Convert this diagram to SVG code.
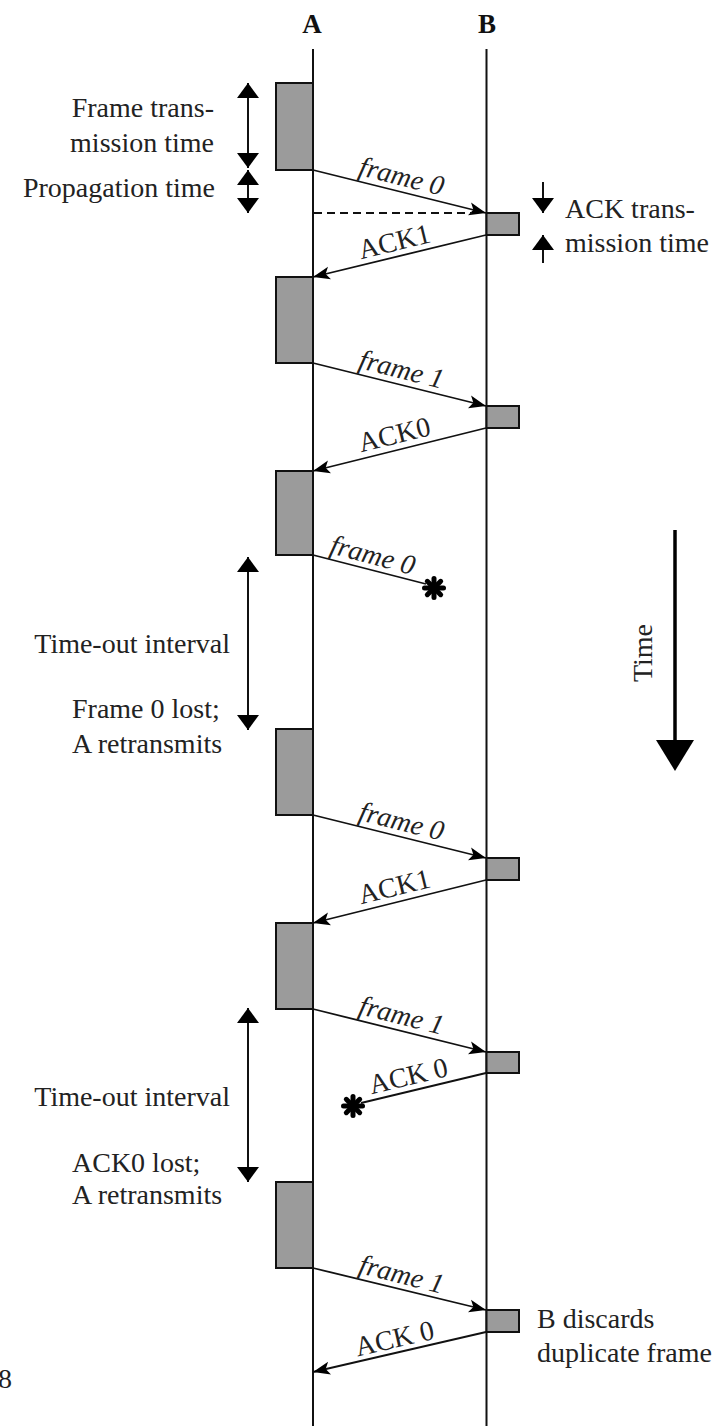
<svg xmlns="http://www.w3.org/2000/svg" width="726" height="1426" viewBox="0 0 726 1426">
<style>
text{font-family:"Liberation Serif","Times New Roman",serif;fill:#222;font-size:28px}
.hd{font-weight:bold;fill:#111;font-size:27px;text-anchor:middle}
.it{font-style:italic;text-anchor:middle}
.ack{text-anchor:middle}
.end{text-anchor:end}
.life{stroke:#111;stroke-width:2;fill:none}
.box{fill:#9b9b9b;stroke:#111;stroke-width:2}
.msg{stroke:#111;stroke-width:1.8;fill:none;marker-end:url(#ah)}
.lost{stroke:#111;stroke-width:1.8;fill:none}
.dim{stroke:#111;stroke-width:2;fill:none;marker-start:url(#vh);marker-end:url(#vh)}
.one{stroke:#111;stroke-width:2;fill:none;marker-end:url(#vh)}
.star{stroke:#000;stroke-width:5;stroke-linecap:round;fill:none}
</style>
<defs>
<marker id="ah" markerWidth="18" markerHeight="14" refX="17" refY="7" orient="auto" markerUnits="userSpaceOnUse"><path d="M0,0.5 L17,7 L0,13.5 L4,7 z" fill="#000"/></marker>
<marker id="vh" markerWidth="16" markerHeight="22" refX="15" refY="11" orient="auto-start-reverse" markerUnits="userSpaceOnUse"><path d="M0,0 L15,11 L0,22 z" fill="#000"/></marker>
</defs>

<g id="lifeline-A"><text class="hd" x="312" y="33">A</text><line class="life" x1="313" y1="49" x2="313" y2="1426"/></g>
<g id="lifeline-B"><text class="hd" x="487" y="33">B</text><line class="life" x1="486.5" y1="49" x2="486.5" y2="1426"/></g>

<g id="a-frames">
<rect class="box" x="276" y="83" width="37" height="87"/>
<rect class="box" x="276" y="277" width="37" height="86"/>
<rect class="box" x="276" y="471" width="37" height="84"/>
<rect class="box" x="276" y="729" width="37" height="86"/>
<rect class="box" x="276" y="923" width="37" height="86"/>
<rect class="box" x="276" y="1182" width="37" height="86"/>
</g>
<g id="b-acks">
<rect class="box" x="486.5" y="213" width="32.5" height="22"/>
<rect class="box" x="486.5" y="406" width="32.5" height="22"/>
<rect class="box" x="486.5" y="858" width="32.5" height="22"/>
<rect class="box" x="486.5" y="1052" width="32.5" height="21"/>
<rect class="box" x="486.5" y="1310" width="32.5" height="22"/>
</g>

<g id="connectors">
<line class="msg" x1="313" y1="170" x2="486" y2="213"/>
<line x1="314" y1="213" x2="472" y2="213" stroke="#111" stroke-width="1.8" stroke-dasharray="8,5"/>
<line class="msg" x1="486" y1="235" x2="313" y2="277"/>
<line class="msg" x1="313" y1="363" x2="486" y2="406"/>
<line class="msg" x1="486" y1="428" x2="313" y2="471"/>
<line class="lost" x1="313" y1="555" x2="426" y2="584"/>
<line class="msg" x1="313" y1="815" x2="486" y2="858"/>
<line class="msg" x1="486" y1="880" x2="313" y2="923"/>
<line class="msg" x1="313" y1="1009" x2="486" y2="1052"/>
<line class="lost" x1="486" y1="1073" x2="361" y2="1103"/>
<line class="msg" x1="313" y1="1268" x2="486" y2="1310"/>
<line class="msg" x1="486" y1="1332" x2="313" y2="1372"/>
</g>

<g id="lost-marks">
<g class="star" transform="translate(434,588)"><line x1="0" y1="-9.5" x2="0" y2="9.5"/><line x1="-9.5" y1="0" x2="9.5" y2="0"/><line x1="-6.7" y1="-6.7" x2="6.7" y2="6.7"/><line x1="-6.7" y1="6.7" x2="6.7" y2="-6.7"/></g>
<g class="star" transform="translate(353,1106)"><line x1="0" y1="-9.5" x2="0" y2="9.5"/><line x1="-9.5" y1="0" x2="9.5" y2="0"/><line x1="-6.7" y1="-6.7" x2="6.7" y2="6.7"/><line x1="-6.7" y1="6.7" x2="6.7" y2="-6.7"/></g>
</g>

<g id="message-labels">
<text class="it" x="399.5" y="185.3" transform="rotate(14 399.5 185.3)">frame 0</text>
<text class="ack" x="396.5" y="250.6" transform="rotate(-13.7 396.5 250.6)">ACK1</text>
<text class="it" x="399.5" y="378.3" transform="rotate(14 399.5 378.3)">frame 1</text>
<text class="ack" x="396.5" y="443.6" transform="rotate(-13.7 396.5 443.6)">ACK0</text>
<text class="it" x="370.5" y="564" transform="rotate(14.7 370.5 564)">frame 0</text>
<text class="it" x="399.5" y="830.3" transform="rotate(14 399.5 830.3)">frame 0</text>
<text class="ack" x="396.5" y="895.6" transform="rotate(-13.7 396.5 895.6)">ACK1</text>
<text class="it" x="399.5" y="1024.3" transform="rotate(14 399.5 1024.3)">frame 1</text>
<text class="ack" x="410.5" y="1085" transform="rotate(-13.4 410.5 1085)">ACK 0</text>
<text class="it" x="399.5" y="1283.3" transform="rotate(14 399.5 1283.3)">frame 1</text>
<text class="ack" x="396.5" y="1347.6" transform="rotate(-13 396.5 1347.6)">ACK 0</text>
</g>

<g id="frame-time-dims">
<line class="dim" x1="248" y1="83" x2="248" y2="168"/>
<line class="dim" x1="248" y1="170" x2="248" y2="213"/>
<text class="end" x="214" y="117">Frame trans-</text>
<text class="end" x="214" y="152">mission time</text>
<text class="end" x="215" y="197">Propagation time</text>
</g>

<g id="ack-time-dims">
<line class="one" x1="543" y1="182" x2="543" y2="213"/>
<line class="one" x1="543" y1="263" x2="543" y2="235"/>
<text x="565" y="218">ACK trans-</text>
<text x="565" y="252">mission time</text>
</g>

<g id="timeout-1">
<line class="dim" x1="248" y1="557" x2="248" y2="730"/>
<text class="end" x="230" y="653">Time-out interval</text>
<text x="72" y="718">Frame 0 lost;</text>
<text x="72" y="753">A retransmits</text>
</g>

<g id="timeout-2">
<line class="dim" x1="248" y1="1008" x2="248" y2="1182"/>
<text class="end" x="230" y="1106">Time-out interval</text>
<text x="72" y="1172">ACK0 lost;</text>
<text x="72" y="1204">A retransmits</text>
</g>

<g id="discard-note">
<text x="537" y="1328">B discards</text>
<text x="537" y="1362">duplicate frame</text>
</g>

<g id="time-axis">
<line x1="675" y1="530" x2="675" y2="742" stroke="#000" stroke-width="3.5"/>
<polygon points="656,740 694,740 675,771" fill="#000"/>
<text x="652" y="653" text-anchor="middle" font-size="35" transform="rotate(-90 652 653)">Time</text>
</g>

<g id="fig-number"><text x="-2" y="1388" font-size="30">8</text></g>
</svg>
